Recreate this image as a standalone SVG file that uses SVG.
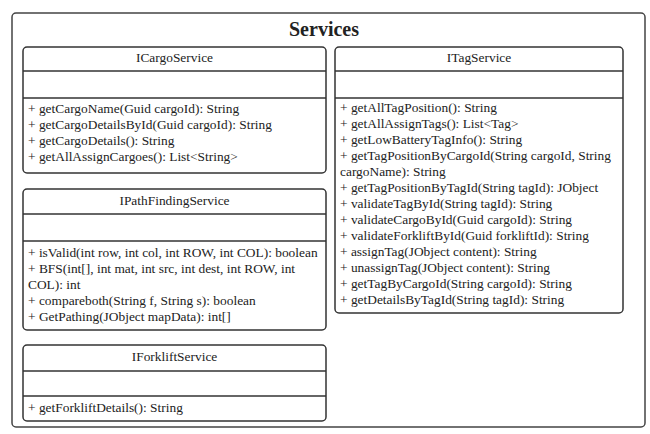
<svg xmlns="http://www.w3.org/2000/svg" width="650" height="434" viewBox="0 0 650 434">
  <style>
    .frame { fill: #ffffff; stroke: #444444; stroke-width: 1.5; }
    .box { fill: #ffffff; stroke: #333333; stroke-width: 1.5; }
    .div { stroke: #333333; stroke-width: 1.5; }
    .title { font-family: "Liberation Serif", serif; font-size: 20px; font-weight: bold; fill: #222222; text-anchor: middle; }
    .name { font-family: "Liberation Serif", serif; font-size: 13.4px; fill: #222222; text-anchor: middle; }
    .m { font-family: "Liberation Serif", serif; font-size: 13.4px; fill: #222222; }
  </style>
  <rect width="650" height="434" fill="#ffffff"/>

  <!-- package frame -->
  <g id="services">
    <rect class="frame" x="12" y="13" width="633" height="414" rx="4"/>
    <text class="title" x="324" y="36">Services</text>
  </g>

  <!-- ICargoService -->
  <g id="ICargoService">
    <rect class="box" x="23" y="47" width="303" height="126" rx="4"/>
    <line class="div" x1="23" y1="71" x2="326" y2="71"/>
    <line class="div" x1="23" y1="98" x2="326" y2="98"/>
    <text class="name" x="174.5" y="62">ICargoService</text>
    <text class="m" x="28" y="113">+ getCargoName(Guid cargoId): String</text>
    <text class="m" x="28" y="129">+ getCargoDetailsById(Guid cargoId): String</text>
    <text class="m" x="28" y="145">+ getCargoDetails(): String</text>
    <text class="m" x="28" y="161">+ getAllAssignCargoes(): List&lt;String&gt;</text>
  </g>

  <!-- IPathFindingService -->
  <g id="IPathFindingService">
    <rect class="box" x="23" y="189" width="303" height="141" rx="4"/>
    <line class="div" x1="23" y1="214" x2="326" y2="214"/>
    <line class="div" x1="23" y1="241" x2="326" y2="241"/>
    <text class="name" x="174.5" y="205">IPathFindingService</text>
    <text class="m" x="28" y="257">+ isValid(int row, int col, int ROW, int COL): boolean</text>
    <text class="m" x="28" y="273">+ BFS(int[], int mat, int src, int dest, int ROW, int</text>
    <text class="m" x="28" y="289">COL): int</text>
    <text class="m" x="28" y="305">+ compareboth(String f, String s): boolean</text>
    <text class="m" x="28" y="321">+ GetPathing(JObject mapData): int[]</text>
  </g>

  <!-- IForkliftService -->
  <g id="IForkliftService">
    <rect class="box" x="23" y="345" width="303" height="76" rx="4"/>
    <line class="div" x1="23" y1="371" x2="326" y2="371"/>
    <line class="div" x1="23" y1="396" x2="326" y2="396"/>
    <text class="name" x="174.5" y="361">IForkliftService</text>
    <text class="m" x="28" y="412">+ getForkliftDetails(): String</text>
  </g>

  <!-- ITagService -->
  <g id="ITagService">
    <rect class="box" x="335" y="47" width="288" height="266" rx="4"/>
    <line class="div" x1="335" y1="71" x2="623" y2="71"/>
    <line class="div" x1="335" y1="98" x2="623" y2="98"/>
    <text class="name" x="479" y="62">ITagService</text>
    <text class="m" x="340" y="112">+ getAllTagPosition(): String</text>
    <text class="m" x="340" y="128">+ getAllAssignTags(): List&lt;Tag&gt;</text>
    <text class="m" x="340" y="144">+ getLowBatteryTagInfo(): String</text>
    <text class="m" x="340" y="160">+ getTagPositionByCargoId(String cargoId, String</text>
    <text class="m" x="340" y="176">cargoName): String</text>
    <text class="m" x="340" y="192">+ getTagPositionByTagId(String tagId): JObject</text>
    <text class="m" x="340" y="208">+ validateTagById(String tagId): String</text>
    <text class="m" x="340" y="224">+ validateCargoById(Guid cargoId): String</text>
    <text class="m" x="340" y="240">+ validateForkliftById(Guid forkliftId): String</text>
    <text class="m" x="340" y="256">+ assignTag(JObject content): String</text>
    <text class="m" x="340" y="272">+ unassignTag(JObject content): String</text>
    <text class="m" x="340" y="288">+ getTagByCargoId(String cargoId): String</text>
    <text class="m" x="340" y="304">+ getDetailsByTagId(String tagId): String</text>
  </g>

  <!-- no connectors in this package -->
  <g id="connectors"/>
</svg>
